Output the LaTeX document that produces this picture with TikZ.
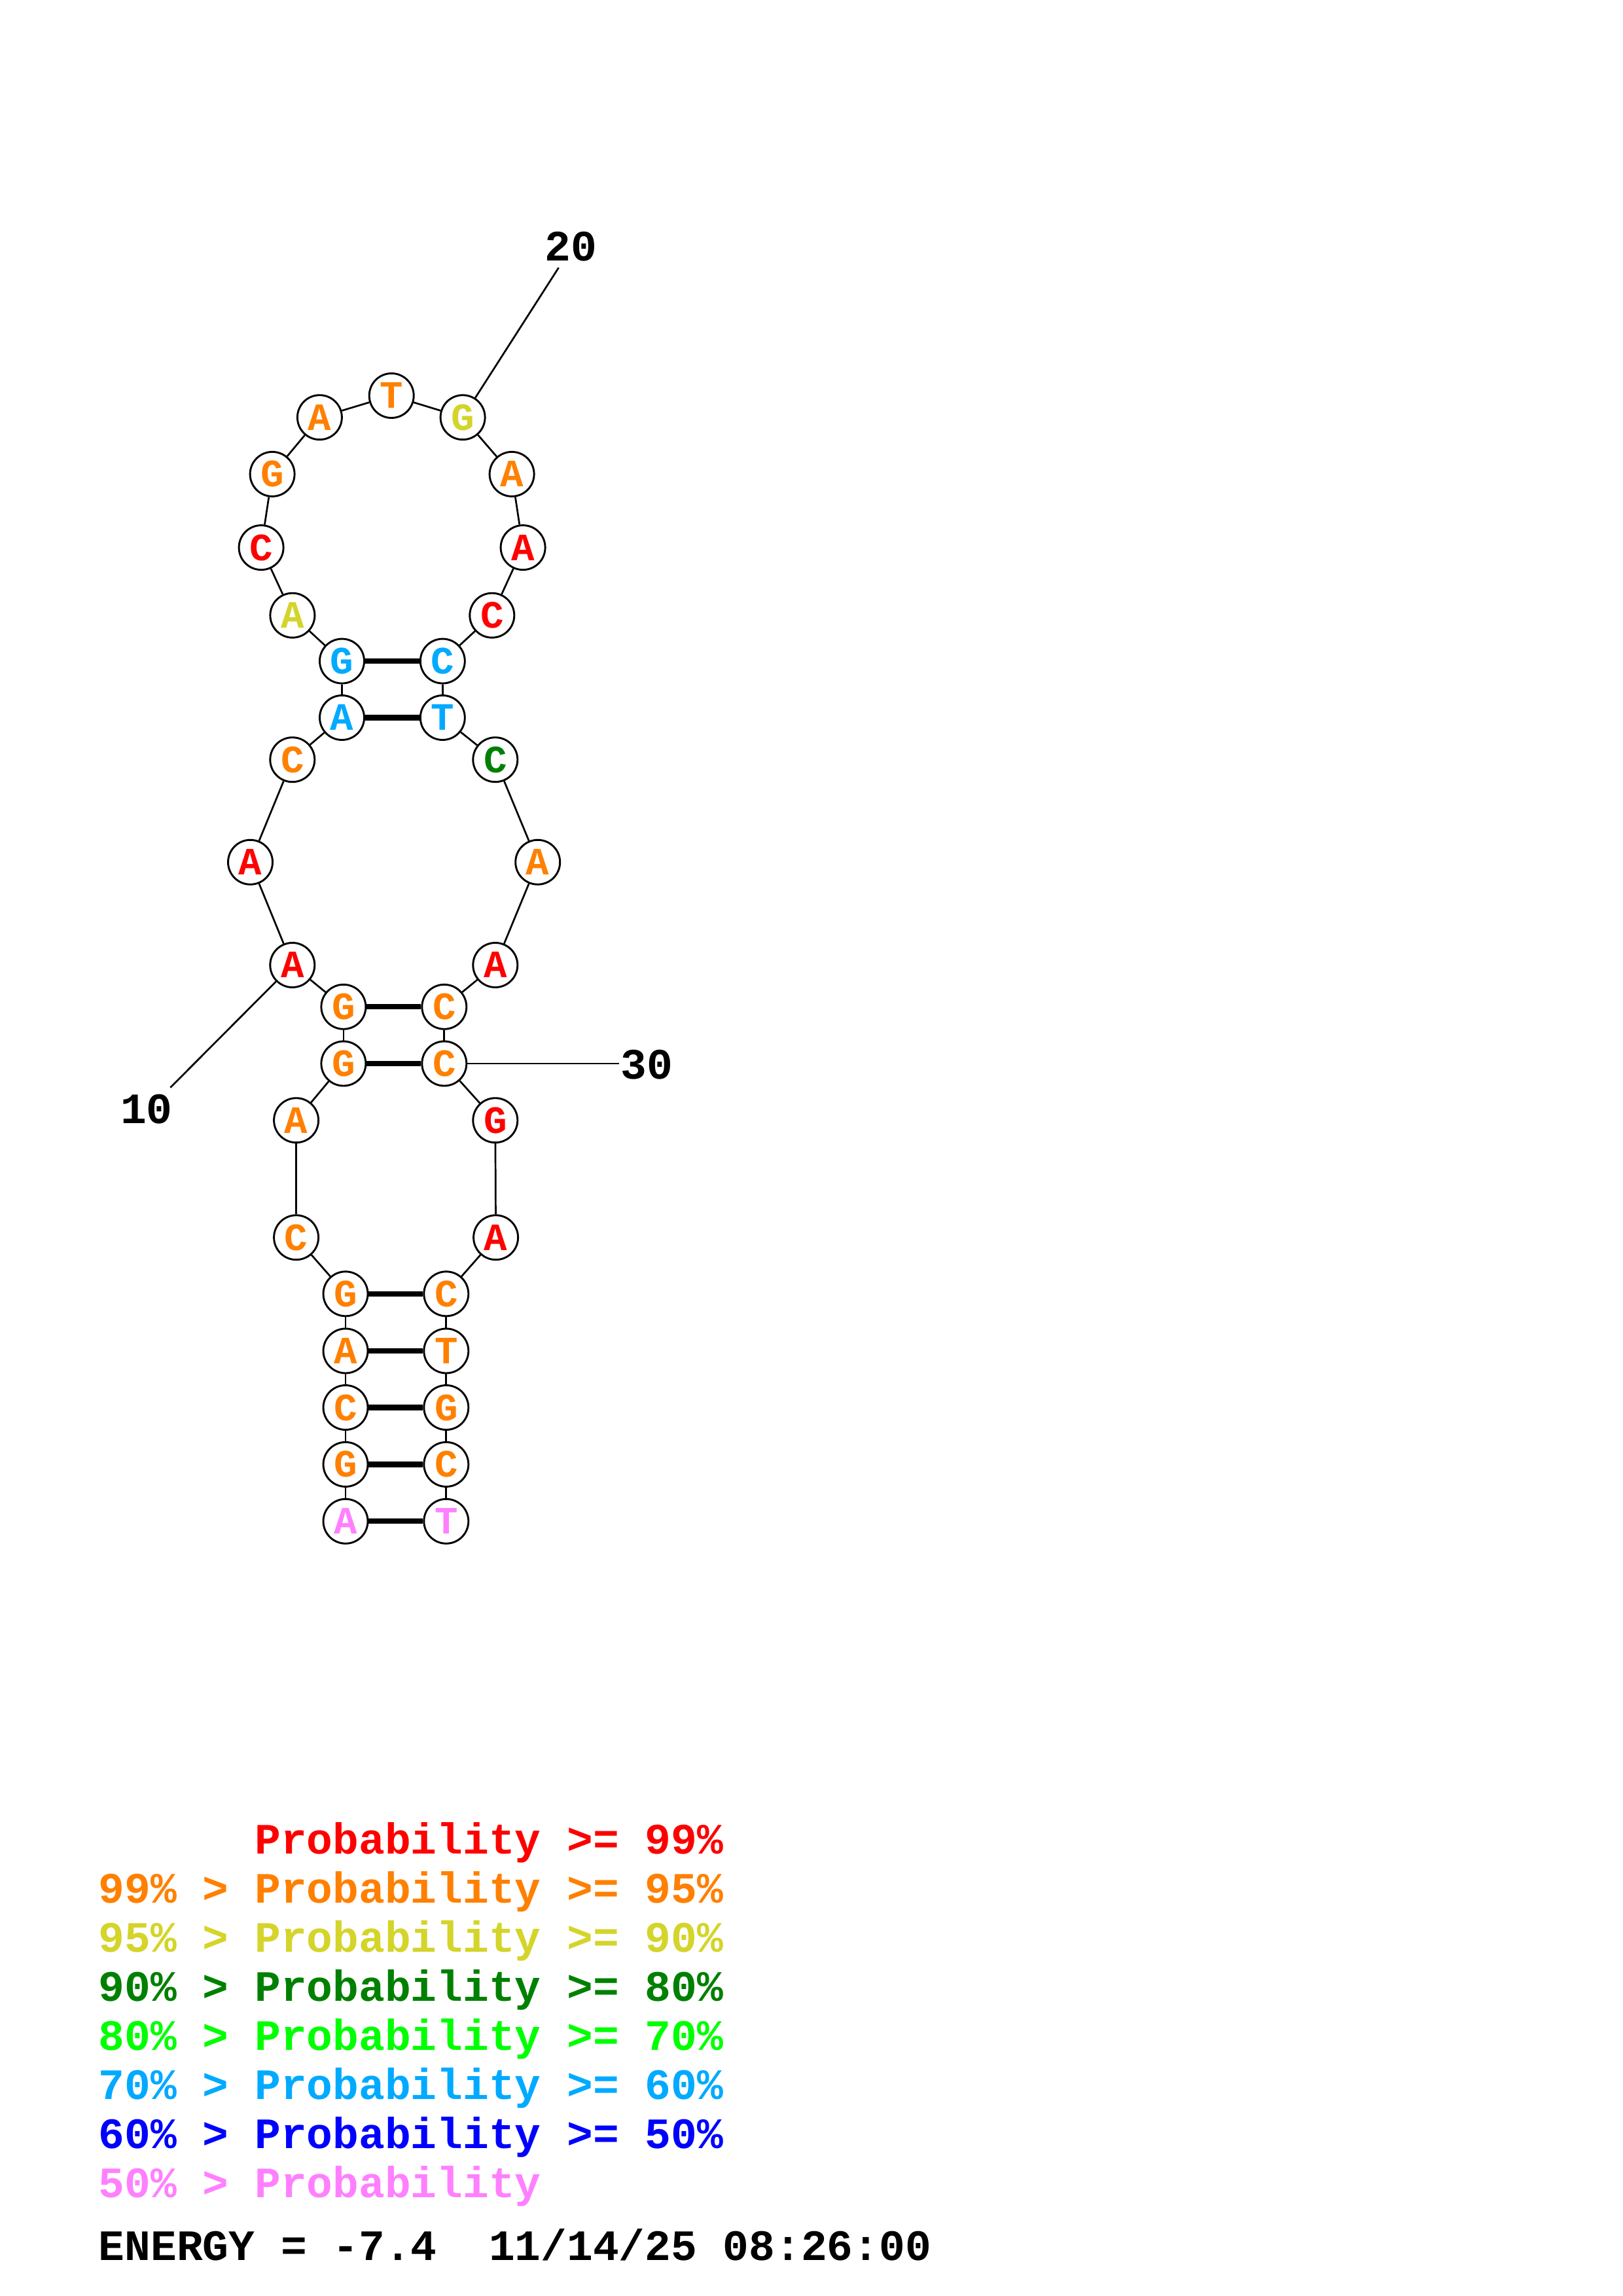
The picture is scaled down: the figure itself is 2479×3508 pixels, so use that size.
\documentclass[tikz,border=0pt]{standalone}
\usepackage{fontspec}
\setmonofont{Liberation Mono}
\definecolor{cR}{RGB}{255,0,0}
\definecolor{cO}{RGB}{255,128,0}
\definecolor{cY}{RGB}{212,212,42}
\definecolor{cG}{RGB}{0,128,0}
\definecolor{cL}{RGB}{0,255,0}
\definecolor{cB}{RGB}{0,170,255}
\definecolor{cD}{RGB}{0,0,255}
\definecolor{cP}{RGB}{255,128,255}
\begin{document}
\begin{tikzpicture}[x=0.24pt,y=-0.24pt,
  nt/.style={circle,draw,line width=0.7pt,fill=white,minimum size=16.32pt,inner sep=0pt,
     font=\ttfamily\bfseries\fontsize{14.2}{15}\selectfont},
  bb/.style={line width=0.65pt},
  bp/.style={line width=2pt},
  lbl/.style={inner sep=0pt,font=\ttfamily\bfseries\fontsize{15.9}{16}\selectfont},
  leg/.style={inner sep=0pt,anchor=base west,font=\ttfamily\bfseries\fontsize{15.9}{16}\selectfont}]
\useasboundingbox (0,0) rectangle (2479,3508);
\foreach \i/\b/\c/\x/\y in {
 1/A/cP/528/2324.3, 2/G/cO/528/2237.4, 3/C/cO/528/2150.5, 4/A/cO/528/2064,
 5/G/cO/528/1976.8, 6/C/cO/452.6/1890.7, 7/A/cO/452.6/1711.7, 8/G/cO/524.9/1625,
 9/G/cO/524.9/1538.3, 10/A/cR/446.8/1474.5, 11/A/cR/382.5/1317.3, 12/C/cO/446.8/1160.7,
 13/A/cB/522.5/1096.5, 14/G/cB/522.5/1010.1, 15/A/cY/446.9/940.2, 16/C/cR/399.1/836.6,
 17/G/cO/416.1/724.4, 18/A/cO/488.4/637.7, 19/T/cO/598.2/604.5, 20/G/cY/707.1/637.7,
 21/A/cO/782.1/724.4, 22/A/cR/799.1/836.6, 23/C/cR/751.8/940.2, 24/C/cB/676.3/1010.1,
 25/T/cB/676.3/1096.5, 26/C/cG/756.8/1160.7, 27/A/cO/821.7/1317.3, 28/A/cR/756.8/1474.5,
 29/C/cO/678.8/1538.3, 30/C/cO/678.8/1625, 31/G/cR/756.8/1711.7, 32/A/cR/757.6/1890.7,
 33/C/cO/681.8/1976.8, 34/T/cO/681.8/2064, 35/G/cO/681.8/2150.5, 36/C/cO/681.8/2237.4,
 37/T/cP/681.8/2324.3}
 \node[nt,text=\c] (n\i) at (\x,\y) {\b};
\foreach \i [evaluate=\i as \j using int(\i+1)] in {1,...,36}
 \draw[bb] (n\i) -- (n\j);
\foreach \a/\b in {1/37,2/36,3/35,4/34,5/33,8/30,9/29,13/25,14/24}
 \draw[bp] (n\a) -- (n\b);
% position labels
\node[lbl,anchor=base] (l10) at (224,1716.7) {10};
\coordinate (e10) at (260.3,1661.7);
\draw[bb] (n10) -- (e10);
\node[lbl,anchor=base] (l20) at (872,399) {20};
\coordinate (e20) at (853.6,409);
\draw[bb] (n20) -- (e20);
\node[lbl,anchor=base] (l30) at (988.5,1648) {30};
\coordinate (e30) at (946.3,1625);
\draw[bb] (n30) -- (e30);
% legend
\node[leg,text=cR] (g1) at (150,2832.7) {\phantom{99\% >} Probability >= 99\%};
\node[leg,text=cO] (g2) at (150,2907.6) {99\% > Probability >= 95\%};
\node[leg,text=cY] (g3) at (150,2982.5) {95\% > Probability >= 90\%};
\node[leg,text=cG] (g4) at (150,3057.4) {90\% > Probability >= 80\%};
\node[leg,text=cL] (g5) at (150,3132.3) {80\% > Probability >= 70\%};
\node[leg,text=cB] (g6) at (150,3207.2) {70\% > Probability >= 60\%};
\node[leg,text=cD] (g7) at (150,3282.1) {60\% > Probability >= 50\%};
\node[leg,text=cP] (g8) at (150,3357) {50\% > Probability};
\node[leg] (en) at (150,3453) {ENERGY = -7.4\ \ 11/14/25 08:26:00};
\end{tikzpicture}
\end{document}
